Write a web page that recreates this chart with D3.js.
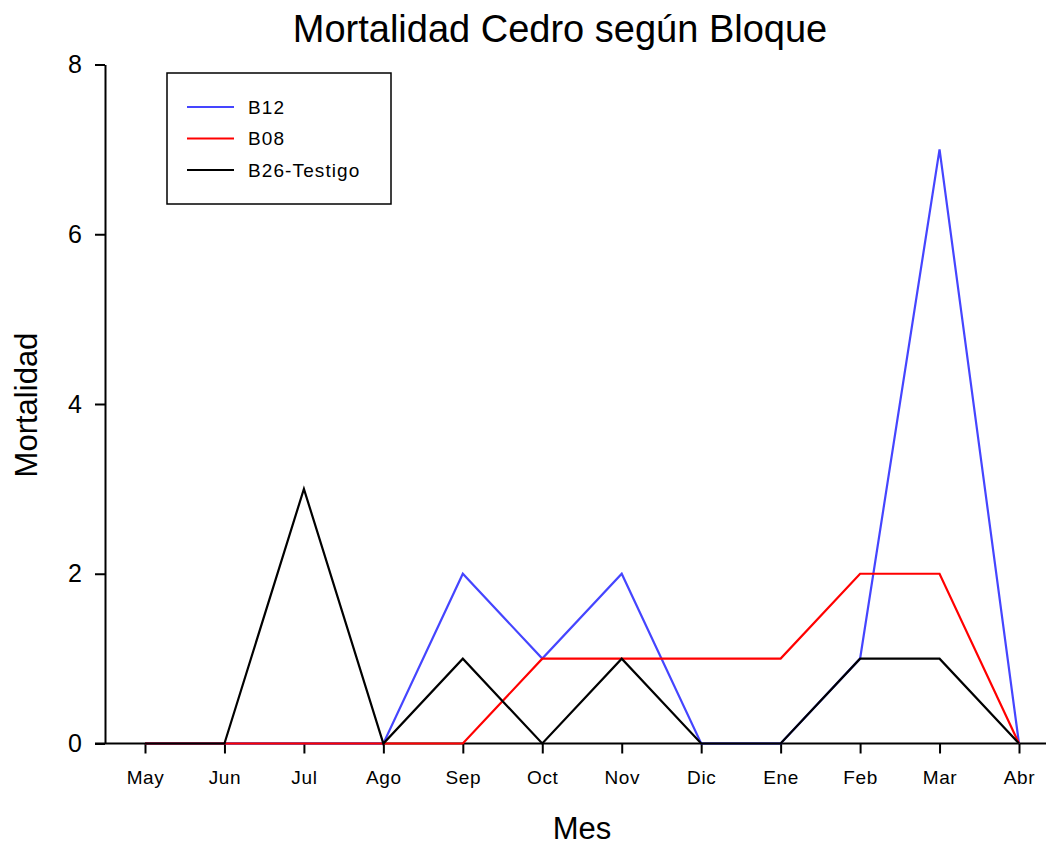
<!DOCTYPE html>
<html>
<head>
<meta charset="utf-8">
<script src="https://cdn.jsdelivr.net/npm/d3@7"></script>
<style>
body { margin: 0; background: #fff; }
text { font-family: "Liberation Sans", Arial, sans-serif; }
</style>
</head>
<body>
<div id="Graph"></div>
<script>
// months on the x axis
var months = ["May", "Jun", "Jul", "Ago", "Sep", "Oct", "Nov", "Dic", "Ene", "Feb", "Mar", "Abr"];
// mortality per block
var b12 = [0, 0, 0, 0, 2, 1, 2, 0, 0, 1, 7, 0];
var b08 = [0, 0, 0, 0, 0, 1, 1, 1, 1, 2, 2, 0];
var b26 = [0, 0, 3, 0, 1, 0, 1, 0, 0, 1, 1, 0];
var seriesNames = ["B12", "B08", "B26-Testigo"];
var seriesColors = ["#4545ff", "#ff0000", "#000000"];
var yTicks = [0, 2, 4, 6, 8];

var width = 1049, height = 847;
var plotLeft = 105, plotRight = 1046, plotTop = 64.5, plotBottom = 743.5;

var svg = d3.select("#Graph").append("svg")
    .attr("width", width)
    .attr("height", height);

//scales
var x = d3.scalePoint()
    .domain(months)
    .range([145, 1019]);
var y = d3.scaleLinear()
    .domain([0, 8])
    .range([plotBottom, plotTop]);

//title
svg.append("text")
    .attr("x", 560)
    .attr("y", 42)
    .style("text-anchor", "middle")
    .style("font-size", "38px")
    .text("Mortalidad Cedro según Bloque");

//y axis
var yAxis = svg.append("g")
    .attr("transform", "translate(" + plotLeft + ",0)")
    .call(d3.axisLeft(y).tickValues(yTicks).tickSize(10).tickSizeOuter(0).tickPadding(13));
yAxis.select(".domain").attr("stroke", "#000").attr("stroke-width", 2);
yAxis.selectAll(".tick line").attr("stroke", "#000").attr("stroke-width", 2);
yAxis.selectAll(".tick text")
    .style("font-size", "25px")
    .attr("fill", "#000");

//x axis
var xAxis = svg.append("g")
    .attr("transform", "translate(0," + plotBottom + ")")
    .call(d3.axisBottom(x).tickSize(10).tickSizeOuter(0).tickPadding(17));
xAxis.select(".domain").remove();
xAxis.selectAll(".tick line").attr("stroke", "#000").attr("stroke-width", 2);
xAxis.selectAll(".tick text")
    .style("font-size", "19px")
    .style("letter-spacing", "0.6px")
    .attr("fill", "#000");
xAxis.append("line")
    .attr("x1", plotLeft - 10)
    .attr("x2", plotRight)
    .attr("y1", 0)
    .attr("y2", 0)
    .attr("stroke", "#000")
    .attr("stroke-width", 2);

//axis labels
svg.append("text")
    .attr("x", 582)
    .attr("y", 839)
    .style("text-anchor", "middle")
    .style("font-size", "31px")
    .text("Mes");

svg.append("text")
    .attr("transform", "translate(37,405) rotate(-90)")
    .style("text-anchor", "middle")
    .style("font-size", "31px")
    .text("Mortalidad");

//lines
var allSeries = [b12, b08, b26];
var line = d3.line()
    .x(function (d, i) { return x(months[i]); })
    .y(function (d) { return y(d); });

allSeries.forEach(function (s, k) {
    svg.append("path")
        .datum(s)
        .attr("d", line)
        .attr("fill", "none")
        .attr("stroke", seriesColors[k])
        .attr("stroke-width", 2.2)
        .attr("stroke-linejoin", "miter");
});

//legend
var legend = svg.append("g")
    .attr("transform", "translate(167,73)");
legend.append("rect")
    .attr("width", 224)
    .attr("height", 131)
    .attr("fill", "#fff")
    .attr("stroke", "#000")
    .attr("stroke-width", 1.5);
var item = legend.selectAll(".legend")
    .data(seriesNames)
    .enter().append("g")
    .attr("class", "legend")
    .attr("transform", function (d, i) {
        return "translate(0," + (34 + i * 31.5) + ")";
    });
item.append("line")
    .attr("x1", 20)
    .attr("x2", 67)
    .attr("stroke", function (d, i) { return seriesColors[i]; })
    .attr("stroke-width", 2.2);
item.append("text")
    .attr("x", 81)
    .attr("dy", "0.35em")
    .style("font-size", "19px")
    .style("letter-spacing", "1.1px")
    .text(function (d) { return d; });
</script>
</body>
</html>
